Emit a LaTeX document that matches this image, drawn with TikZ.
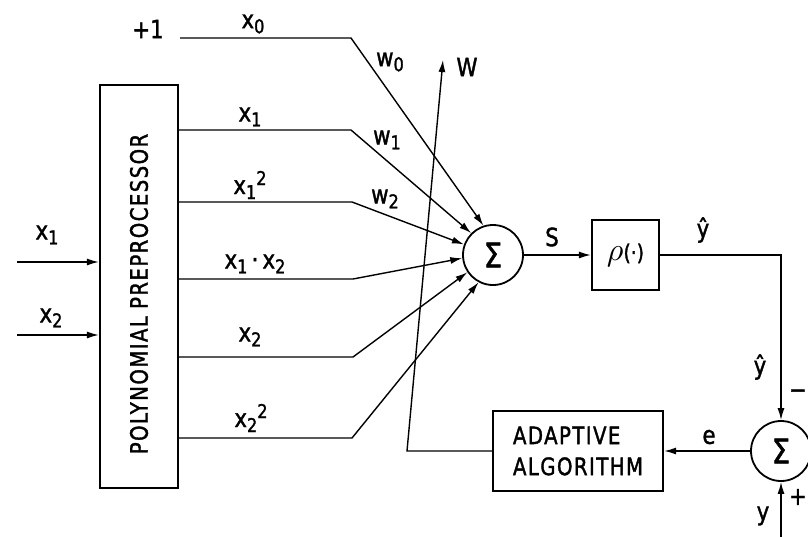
\documentclass[tikz,border=0pt]{standalone}
\usepackage{fontspec}
\usepackage{graphicx}
\setmainfont{DejaVu Sans}
\newfontfamily\spacedfont{DejaVu Sans}[LetterSpace=6, FakeStretch=0.82, FakeBold=1.5]
\newfontfamily\labf{DejaVu Sans}[FakeStretch=0.85, FakeBold=1.5]
\usetikzlibrary{arrows.meta}
\newcommand\sbx[1]{\raisebox{-5pt}{\fontsize{19}{19}\selectfont #1}}
\newcommand\spx[1]{\raisebox{9pt}{\fontsize{19}{19}\selectfont #1}}
\begin{document}
\begin{tikzpicture}[x=1pt,y=-1pt,
  blk/.style={draw, line width=2.2pt, inner sep=0pt},
  sumnode/.style={draw, circle, line width=1.8pt, minimum size=60pt, inner sep=0pt, font=\labf\fontsize{34}{34}\selectfont},
  wire/.style={line width=1.4pt},
  lab/.style={inner sep=0pt, font=\labf\fontsize{25}{25}\selectfont},
  >={Latex[length=12pt,width=7pt]}]
\useasboundingbox (0,0) rectangle (808,536);
\clip (0,0) rectangle (808,536);

% blocks
\node[blk, minimum width=78pt, minimum height=403pt] (pp) at (139,286.5) {};
\node[rotate=90, inner sep=0pt, font=\spacedfont\fontsize{24}{24}\selectfont] (pptxt) at (139,294) {POLYNOMIAL\hspace{0.3em}PREPROCESSOR};
\node[sumnode] (sum) at (493,255) {Σ};
\node[blk, minimum width=67pt, minimum height=70pt] (rho) at (625.5,255) {\scalebox{3.2}{$\rho$}\labf\fontsize{22}{22}\selectfont(·)};
\node[blk, minimum width=170pt, minimum height=80pt, align=left, font=\spacedfont\fontsize{24}{31}\selectfont] (adapt) at (578,451) {ADAPTIVE\\ALGORITHM};
\node[sumnode] (sum2) at (781,451) {Σ};

% coordinates
\coordinate (one) at (180,38);
\coordinate (k0) at (351,38);
\coordinate (k1) at (351,130);
\coordinate (k2) at (352,202);
\coordinate (k3) at (353,279);
\coordinate (k4) at (353,357);
\coordinate (k5) at (352,438);
\coordinate (i1) at (17,262);
\coordinate (i2) at (17,335);
\coordinate (wb) at (407,451);
\coordinate (wt) at (443,60);
\coordinate (yin) at (781,545);

% inputs
\draw[wire,->] (i1) -- (i1 -| pp.west);
\draw[wire,->] (i2) -- (i2 -| pp.west);

% weighted lines
\draw[wire,->] (one) -- (k0) -- (sum.108);
\draw[wire,->] (k1 -| pp.east) -- (k1) -- (sum.135);
\draw[wire,->] (k2 -| pp.east) -- (k2) -- (sum.160);
\draw[wire,->] (k3 -| pp.east) -- (k3) -- (sum.186);
\draw[wire,->] (k4 -| pp.east) -- (k4) -- (sum.214);
\draw[wire,->] (k5 -| pp.east) -- (k5) -- (sum.242);

% W adjustment
\draw[wire,->] (adapt.west) -- (wb) -- (wt);

% output path
\draw[wire,->] (sum) -- (rho);
\draw[wire,->] (rho.east) -- (rho.east -| sum2.north) -- (sum2.north);
\draw[wire,->] (yin) -- (sum2.south);
\draw[wire,->] (sum2) -- (adapt);

% labels
\node[lab] (lp1) at (148,29) {+1};
\node[lab] (lx0) at (253,24) {x\sbx{0}};
\node[lab] (lw0) at (390,62) {w\sbx{0}};
\node[lab] (lw1) at (387,140) {w\sbx{1}};
\node[lab] (lw2) at (385,199) {w\sbx{2}};
\node[lab] (lW) at (467,67) {W};
\node[lab] (lx1) at (250,117) {x\sbx{1}};
\node[lab] (lx11) at (250,185) {x\sbx{1}\spx{2}};
\node[lab] (lx12) at (255,264) {x\sbx{1}\,·\,x\sbx{2}};
\node[lab] (lx2) at (250,337) {x\sbx{2}};
\node[lab] (lx22) at (251,418) {x\sbx{2}\spx{2}};
\node[lab] (lin1) at (47,235) {x\sbx{1}};
\node[lab] (lin2) at (51,318) {x\sbx{2}};
\node[lab] (lS) at (552,237) {S};
\node[lab] (lyh1) at (703,230) {ŷ};
\node[lab] (lyh2) at (760,367) {ŷ};
\node[lab, anchor=east] (lminus) at (807,394) {−};
\node[lab] (le) at (709,437) {e};
\node[lab, anchor=east] (lplus) at (807,497) {+};
\node[lab] (ly) at (763,516) {y};
\end{tikzpicture}
\end{document}
